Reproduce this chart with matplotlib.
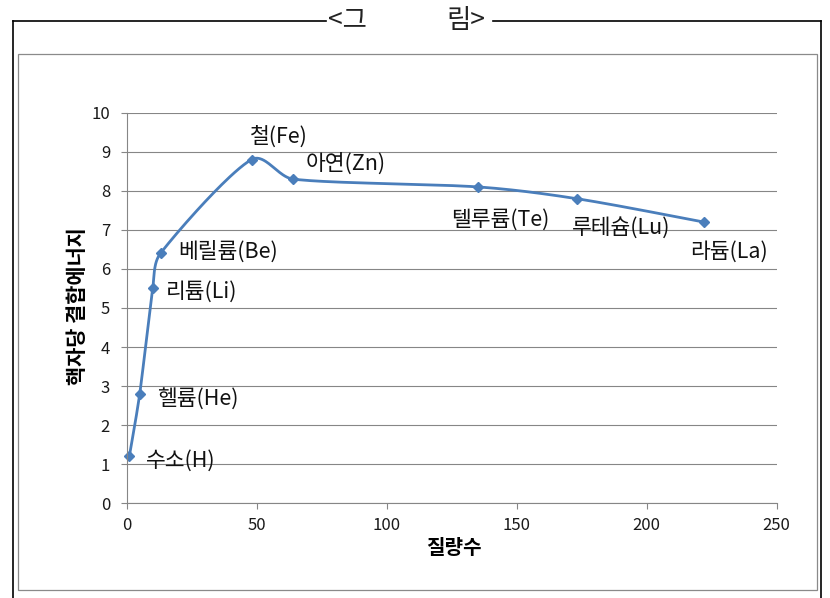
import numpy as np
import matplotlib
matplotlib.use("Agg")
import matplotlib.pyplot as plt
from matplotlib.lines import Line2D
from matplotlib.patches import Rectangle

plt.rcParams['font.family'] = ['Noto Sans CJK KR', 'DejaVu Sans']

# ---- data ----
elements = ['수소(H)', '헬륨(He)', '리튬(Li)', '베릴륨(Be)', '철(Fe)', '아연(Zn)',
            '텔루륨(Te)', '루테슘(Lu)', '라듐(La)']
mass_number = [1, 5, 10, 13, 48, 64, 135, 173, 222]
binding_energy = [1.2, 2.8, 5.5, 6.4, 8.8, 8.3, 8.1, 7.8, 7.2]
# label anchor positions (data coords, left/center of text)
label_x = [7.4, 11.7, 15.1, 19.7, 47.5, 69, 124.8, 171.3, 216.7]
label_y = [1.1, 2.65, 5.41, 6.43, 9.38, 8.69, 7.25, 7.05, 6.45]
xticks = [0, 50, 100, 150, 200, 250]
yticks = list(range(0, 11))
xlabel = '질량수'
ylabel = '핵자당 결합에너지'

W, H = 830, 598
fig = plt.figure(figsize=(W / 100, H / 100), dpi=100)

def fx(px):
    return px / W

def fy(py):
    return 1 - py / H

# outer frame
frame_kw = dict(color='black', lw=1.2, transform=fig.transFigure)
fig.add_artist(Line2D([fx(13), fx(326)], [fy(20.5), fy(20.5)], **frame_kw))
fig.add_artist(Line2D([fx(493), fx(821)], [fy(20.5), fy(20.5)], **frame_kw))
fig.add_artist(Line2D([fx(13), fx(13)], [fy(20.5), fy(600)], **frame_kw))
fig.add_artist(Line2D([fx(821), fx(821)], [fy(20.5), fy(600)], **frame_kw))
fig.text(fx(328), fy(20), '<그', fontsize=19, va='center', ha='left', color='#222222',
         fontweight='light')
fig.text(fx(446), fy(20), '림>', fontsize=19, va='center', ha='left', color='#222222',
         fontweight='light')

# inner chart border
fig.add_artist(Rectangle((fx(18), fy(590)), (817 - 18) / W, (590 - 54) / H,
                         fill=False, edgecolor='#8a8a8a', lw=0.9,
                         transform=fig.transFigure))

left, right = 126.7, 776.7
top, bottom = 112.7, 503.3
ax = fig.add_axes([fx(left), fy(bottom), (right - left) / W, (bottom - top) / H])
ax.set_xlim(0, 250)
ax.set_ylim(0, 10)
ax.set_xticks(xticks)
ax.set_yticks(yticks)
ax.set_facecolor('none')
for s in ['top', 'right']:
    ax.spines[s].set_visible(False)
for s in ['left', 'bottom']:
    ax.spines[s].set_color('#868686')
    ax.spines[s].set_linewidth(0.8)
ax.yaxis.grid(True, color='#868686', lw=0.8)
ax.set_axisbelow(True)
ax.tick_params(axis='both', direction='out', length=4, width=0.8, color='#868686',
               labelsize=12, labelcolor='#1a1a1a')
ax.tick_params(axis='y', pad=8)
ax.tick_params(axis='x', pad=6)

ax.set_xlabel(xlabel, fontsize=14.5, fontweight='bold')
ax.xaxis.set_label_coords((454 - left) / (right - left), (bottom - 548) / (bottom - top))
ax.xaxis.label.set_va('center')
ax.set_ylabel(ylabel, fontsize=15, fontweight='bold')
ax.yaxis.set_label_coords((77 - left) / (right - left), (bottom - 306) / (bottom - top))
ax.yaxis.label.set_va('center')

# smoothed line (Excel-like), computed in display space
pts = ax.transData.transform(np.column_stack([mass_number, binding_energy]))
n = len(pts)
curve = []
for i in range(n - 1):
    p0 = pts[i]
    p3 = pts[i + 1]
    seg = np.linalg.norm(p3 - p0)
    prev = pts[i - 1] if i > 0 else p0
    nxt = pts[i + 2] if i + 2 < n else p3
    t0 = p3 - prev
    t1 = nxt - p0
    h0 = min(np.linalg.norm(t0) / 6, seg / 3)
    h1 = min(np.linalg.norm(t1) / 6, seg / 3)
    p1 = p0 + t0 / np.linalg.norm(t0) * h0
    p2 = p3 - t1 / np.linalg.norm(t1) * h1
    t = np.linspace(0, 1, 40)[:, None]
    b = (1 - t) ** 3 * p0 + 3 * (1 - t) ** 2 * t * p1 + 3 * (1 - t) * t ** 2 * p2 + t ** 3 * p3
    curve.append(b if i == 0 else b[1:])
curve = np.vstack(curve)
curve_data = ax.transData.inverted().transform(curve)
ax.plot(curve_data[:, 0], curve_data[:, 1], color='#4a7ebb', lw=2.0,
        solid_capstyle='round', solid_joinstyle='round', clip_on=False)
ax.plot(mass_number, binding_energy, linestyle='none', marker='D', markersize=5,
        color='#4a7ebb', clip_on=False)

for name, lx, ly in zip(elements, label_x, label_y):
    ax.text(lx, ly, name, fontsize=15.5, ha='left', va='center', color='#111111')

fig.savefig('out.png', dpi=100)
